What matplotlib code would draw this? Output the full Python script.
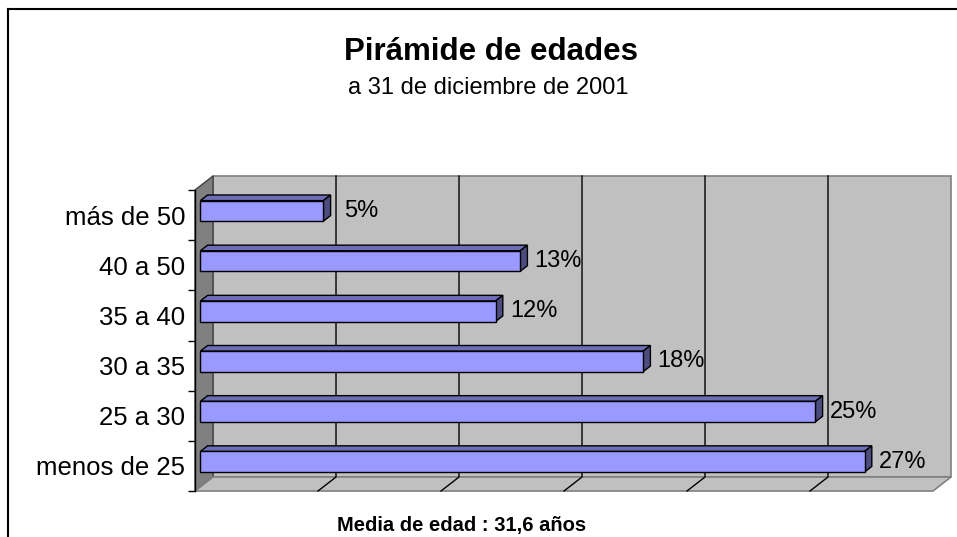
import numpy as np
import matplotlib
matplotlib.use("Agg")
import matplotlib.pyplot as plt
from matplotlib.patches import Polygon
from matplotlib.lines import Line2D

plt.rcParams['font.family'] = ['Liberation Sans', 'DejaVu Sans']

# ------------ Datos ------------
categorias = ["menos de 25", "25 a 30", "30 a 35", "35 a 40", "40 a 50", "más de 50"]
porcentajes = [27, 25, 18, 12, 13, 5]
titulo = "Pirámide de edades"
subtitulo = "a 31 de diciembre de 2001"
pie = "Media de edad : 31,6 años"

X_MAX = 30
# desplazamiento de profundidad (efecto 3D), en unidades de datos
DX, DY = 0.732, 0.279
F_FRONT, F_BACK = 0.3, 0.7   # posicion de la barra dentro de la profundidad
HH = 0.205                   # media altura de barra

W, H = 957, 537
fig = plt.figure(figsize=(W / 100, H / 100), dpi=100)
fig.patch.set_facecolor("white")

# plano frontal: x 195..933 px, y 190..491 px
ax = fig.add_axes([195 / W, 1 - 491 / H, (933 - 195) / W, (491 - 190) / H])
ax.set_xlim(0, X_MAX)
ax.set_ylim(-0.5, len(categorias) - 0.5)
ax.patch.set_visible(False)
for s in ["top", "right", "bottom"]:
    ax.spines[s].set_visible(False)
ax.spines["left"].set_color("black")
ax.spines["left"].set_linewidth(1.0)
ax.spines["left"].set_zorder(6)
ax.set_xticks([])

ytop = len(categorias) - 0.5
ybot = -0.5

# pared trasera
ax.add_patch(Polygon([(DX, ybot + DY), (X_MAX + DX, ybot + DY),
                      (X_MAX + DX, ytop + DY), (DX, ytop + DY)],
                     closed=True, fc="#c0c0c0", ec="#808080", lw=1.2, zorder=1, clip_on=False))
# pared izquierda
ax.add_patch(Polygon([(0, ybot), (0, ytop), (DX, ytop + DY), (DX, ybot + DY)],
                     closed=True, fc="#808080", ec="#404040", lw=1.0, zorder=2, clip_on=False))
# suelo
ax.add_patch(Polygon([(0, ybot), (X_MAX, ybot), (X_MAX + DX, ybot + DY), (DX, ybot + DY)],
                     closed=True, fc="#c0c0c0", ec="#808080", lw=1.2, zorder=2, clip_on=False))

# lineas de division
for v in range(5, X_MAX, 5):
    ax.plot([v, v + DX, v + DX], [ybot, ybot + DY, ytop + DY],
            color="black", lw=1.0, zorder=3, clip_on=False)

# barras
ddx = (F_BACK - F_FRONT) * DX
ddy = (F_BACK - F_FRONT) * DY
for i, v in enumerate(porcentajes):
    x0 = F_FRONT * DX
    x1 = v + F_FRONT * DX
    y0 = i - HH + F_FRONT * DY
    y1 = i + HH + F_FRONT * DY
    ax.add_patch(Polygon([(x0, y1), (x1, y1), (x1 + ddx, y1 + ddy), (x0 + ddx, y1 + ddy)],
                         closed=True, fc="#6e6eb8", ec="black", lw=1.0, zorder=4, clip_on=False))
    ax.add_patch(Polygon([(x1, y0), (x1 + ddx, y0 + ddy), (x1 + ddx, y1 + ddy), (x1, y1)],
                         closed=True, fc="#4c4c80", ec="black", lw=1.0, zorder=4, clip_on=False))
    ax.add_patch(Polygon([(x0, y0), (x1, y0), (x1, y1), (x0, y1)],
                         closed=True, fc="#9999ff", ec="black", lw=1.0, zorder=5, clip_on=False))
    ax.annotate(f"{v}%", (x1, (y0 + y1) / 2), xytext=(27.5, 0), textcoords="offset points",
                ha="center", va="center", fontsize=17, color="black", zorder=6)

# eje de categorias
ax.set_yticks(range(len(categorias)))
ax.set_yticklabels(categorias, fontsize=18.5)
ax.tick_params(axis="y", which="major", length=0, pad=7)
ax.set_yticks(np.arange(-0.5, len(categorias), 1.0), minor=True)
ax.tick_params(axis="y", which="minor", length=5, width=1.0, color="black", direction="out")

# textos
fig.text(491 / W, 1 - 52 / H, titulo, ha="center", va="center", fontsize=22.5, fontweight="bold")
fig.text(488 / W, 1 - 88 / H, subtitulo, ha="center", va="center", fontsize=17)
fig.text(462 / W, 1 - 526 / H, pie, ha="center", va="center", fontsize=14.5, fontweight="bold")

# marco
fig.add_artist(Line2D([8 / W, 1.0], [1 - 9 / H, 1 - 9 / H], color="black", lw=1.5))
fig.add_artist(Line2D([8 / W, 8 / W], [0.0, 1 - 9 / H], color="black", lw=1.5))

fig.savefig("out.png", dpi=100)
